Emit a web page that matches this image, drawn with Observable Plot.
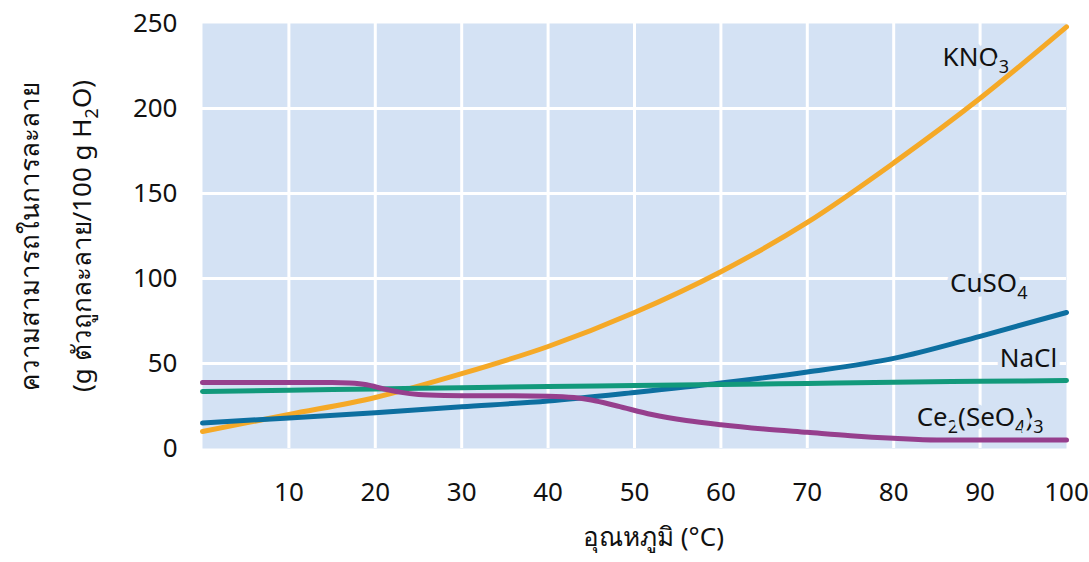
<!DOCTYPE html>
<html>
<head>
<meta charset="utf-8">
<script src="https://cdn.jsdelivr.net/npm/d3@7"></script>
<script src="https://cdn.jsdelivr.net/npm/@observablehq/plot@0.6"></script>
<style>
  body { margin: 0; background: #ffffff; }
</style>
</head>
<body>
<div id="chart"></div>
<script>
// ---- Data ----
const temps = [0, 10, 20, 30, 40, 50, 60, 70, 80, 90, 100];
const kno3 = [10, 20, 30, 44, 60, 80, 104, 133, 168, 206, 248];
const cuso4 = [15, 18, 21, 24.5, 28, 33, 38.5, 45, 53, 66, 80];
const nacl = [33.5, 34.3, 35, 35.8, 36.5, 37, 37.6, 38.3, 39, 39.5, 40];
const ceTemps = [0, 5, 10, 15, 17, 19, 21, 23, 25, 28, 32, 36, 40, 43, 45, 48, 52, 56, 60, 65, 70, 75, 80, 85, 90, 95, 100];
const ceSeO4 = [38.8, 38.8, 38.8, 38.8, 38.5, 37.5, 35, 33, 31.8, 31.2, 31, 31, 30.8, 30, 28.5, 25, 20, 16.5, 14, 11.5, 9.5, 7.5, 6, 5, 5, 5, 5];

const seriesNames = ["KNO₃", "CuSO₄", "NaCl", "Ce₂(SeO₄)₃"];
const seriesColors = ["#f5a927", "#0d6fa0", "#12997b", "#963f8d"];
const labelX = [89.5, 91, 95.6, 90];
const labelY = [230, 97, 53, 18];

const xTicks = [10, 20, 30, 40, 50, 60, 70, 80, 90, 100];
const yTicks = [0, 50, 100, 150, 200, 250];
const xGrid = [10, 20, 30, 40, 50, 60, 70, 80, 90];
const yGrid = [50, 100, 150, 200];

const yTitle = ["ความสามารถในการละลาย", "(g ตัวถูกละลาย/100 g H₂O)"];
const xTitle = "อุณหภูมิ (°C)";

// ---- Tidy tables built from the arrays ----
const rows = [];
temps.forEach((t, i) => {
  rows.push({series: seriesNames[0], t, v: kno3[i]});
  rows.push({series: seriesNames[1], t, v: cuso4[i]});
  rows.push({series: seriesNames[2], t, v: nacl[i]});
});
ceTemps.forEach((t, i) => rows.push({series: seriesNames[3], t, v: ceSeO4[i]}));
const labels = seriesNames.map((name, i) => ({name, x: labelX[i], y: labelY[i]}));

const bg = "#d4e2f4";
const font = "'Noto Sans', Lato, 'DejaVu Sans', sans-serif";

const svg = Plot.plot({
  width: 1089,
  height: 562,
  marginLeft: 202,
  marginRight: 23,
  marginTop: 23,
  marginBottom: 114,
  style: {fontFamily: font, fontSize: "26px", color: "#111", background: "#ffffff"},
  x: {domain: [0, 100]},
  y: {domain: [0, 250]},
  color: {domain: seriesNames, range: seriesColors},
  marks: [
    Plot.frame({fill: bg, stroke: null}),
    Plot.gridX(xGrid, {stroke: "#ffffff", strokeOpacity: 1, strokeWidth: 3}),
    Plot.gridY(yGrid, {stroke: "#ffffff", strokeOpacity: 1, strokeWidth: 3}),
    Plot.axisX(xTicks, {tickSize: 0, tickPadding: 34, label: null, fontSize: 26}),
    Plot.axisY(yTicks, {tickSize: 0, tickPadding: 25, label: null, fontSize: 26}),
    Plot.text(labels, {x: "x", y: "y", text: "name", fill: "#111", stroke: bg, strokeWidth: 9, fontSize: 26, textAnchor: "middle"}),
    Plot.line(rows, {x: "t", y: "v", z: "series", stroke: "series", strokeWidth: 5, curve: "monotone-x"}),
    Plot.text([xTitle], {frameAnchor: "bottom", dy: 97, dx: 19, fontSize: 26, fill: "#111", textAnchor: "middle"}),
    Plot.text([yTitle[0]], {frameAnchor: "left", dx: -172, rotate: -90, fontSize: 26, fill: "#111", textAnchor: "middle"}),
    Plot.text([yTitle[1]], {frameAnchor: "left", dx: -120, rotate: -90, fontSize: 26, fill: "#111", textAnchor: "middle"})
  ]
});

// Turn Unicode subscript digits into real subscript tspans
const subDigits = "₀₁₂₃₄₅₆₇₈₉";
const NS = "http://www.w3.org/2000/svg";
svg.querySelectorAll("text").forEach(t => {
  const s = t.textContent;
  if (!/[₀-₉]/.test(s)) return;
  while (t.firstChild) t.removeChild(t.firstChild);
  let shifted = false;
  for (const run of s.match(/[₀-₉]+|[^₀-₉]+/g)) {
    const ts = document.createElementNS(NS, "tspan");
    if (/[₀-₉]/.test(run[0])) {
      ts.textContent = [...run].map(c => subDigits.indexOf(c)).join("");
      ts.setAttribute("font-size", "18px");
      ts.setAttribute("dy", "7");
      shifted = true;
    } else {
      ts.textContent = run;
      if (shifted) { ts.setAttribute("dy", "-7"); shifted = false; }
    }
    t.appendChild(ts);
  }
});

document.getElementById("chart").appendChild(svg);
</script>
</body>
</html>
